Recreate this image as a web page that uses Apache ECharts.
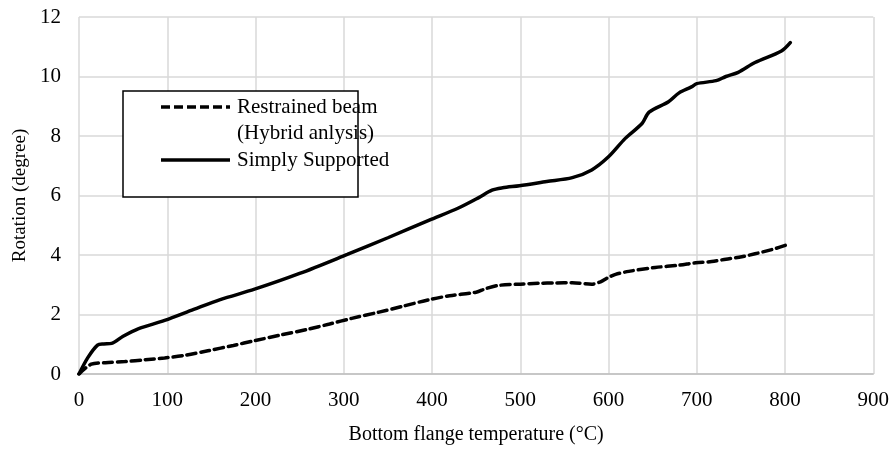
<!DOCTYPE html>
<html>
<head>
<meta charset="utf-8">
<script src="https://cdn.jsdelivr.net/npm/echarts@6/dist/echarts.min.js"></script>
<style>html,body{margin:0;padding:0;background:#fff}#c{width:892px;height:450px}</style>
</head>
<body>
<div id="c"></div>
<script>
const xTicks = [0,100,200,300,400,500,600,700,800,900];
const yTicks = [0,2,4,6,8,10,12];
const restrainedName = 'Restrained beam\n(Hybrid anlysis)';
const simplyName = 'Simply Supported';
const restrainedT = [0,14,30,52,75,97,120,146,175,199,230,259,284,309,340,366,397,420,450,461,476,500,521,540,559,581,591,600,608,623,653,680,699,717,733,751,766,785,804];
const restrainedR = [0,0.33,0.38,0.42,0.48,0.54,0.63,0.78,0.96,1.12,1.32,1.5,1.68,1.87,2.08,2.27,2.5,2.63,2.75,2.87,2.98,3.02,3.05,3.06,3.07,3.02,3.1,3.25,3.35,3.45,3.58,3.66,3.74,3.78,3.86,3.94,4.04,4.18,4.36];
const simplyT = [0,10,21,28,37,50,67,97,130,160,199,250,304,350,397,430,453,468,480,499,530,559,581,600,619,638,646,668,680,694,700,722,733,747,766,796,806];
const simplyR = [0,0.55,0.97,1.01,1.03,1.27,1.52,1.8,2.17,2.5,2.85,3.38,4.02,4.58,5.17,5.58,5.93,6.18,6.26,6.33,6.47,6.6,6.86,7.3,7.92,8.42,8.8,9.15,9.45,9.65,9.76,9.86,10.0,10.14,10.47,10.86,11.14];

const zip = (a,b) => a.map((v,i)=>[v,b[i]]);
const FONT = 'Liberation Serif';
const chart = echarts.init(document.getElementById('c'), null, {renderer:'canvas'});
chart.setOption({
  animation:false,
  textStyle:{fontFamily:FONT, color:'#000'},
  grid:{left:79, right:17, top:17, bottom:71, containLabel:false},
  xAxis:{
    type:'value', min:xTicks[0], max:xTicks[xTicks.length-1], interval:100,
    name:'Bottom flange temperature (°C)', nameLocation:'middle', nameGap:51,
    nameTextStyle:{fontFamily:FONT, fontSize:20, color:'#000'},
    axisLine:{show:true, lineStyle:{color:'#bfbfbf', width:1.5}},
    axisTick:{show:false},
    axisLabel:{fontFamily:FONT, fontSize:21, color:'#000', margin:16},
    splitLine:{show:true, lineStyle:{color:'#d9d9d9', width:1.5}}
  },
  yAxis:{
    type:'value', min:yTicks[0], max:yTicks[yTicks.length-1], interval:2,
    name:'Rotation (degree)', nameLocation:'middle', nameGap:48, nameRotate:90,
    nameTextStyle:{fontFamily:FONT, fontSize:19, color:'#000'},
    axisLine:{show:false},
    axisTick:{show:false},
    axisLabel:{fontFamily:FONT, fontSize:21, color:'#000', margin:18},
    splitLine:{show:true, lineStyle:{color:'#d9d9d9', width:1.5}}
  },
  series:[
    {name:restrainedName, type:'line', data:zip(restrainedT,restrainedR), showSymbol:false, smooth:0.3,
     lineStyle:{color:'#000', width:3.5, type:[9,5], cap:'round'}},
    {name:simplyName, type:'line', data:zip(simplyT,simplyR), showSymbol:false, smooth:0.3,
     lineStyle:{color:'#000', width:3.5, cap:'round'}}
  ],
  graphic:[
    {type:'rect', shape:{x:123, y:91, width:235, height:106}, style:{fill:'#fff', stroke:'#000', lineWidth:1.5}, z:100},
    {type:'line', shape:{x1:161, y1:107, x2:230, y2:107}, style:{stroke:'#000', lineWidth:3.5, lineDash:[9,4]}, z:101},
    {type:'line', shape:{x1:161, y1:160, x2:230, y2:160}, style:{stroke:'#000', lineWidth:3.5}, z:101},
    {type:'text', x:237, y:107, style:{text:'Restrained beam', font:'21px "Liberation Serif"', fill:'#000', textVerticalAlign:'middle', verticalAlign:'middle'}, z:101},
    {type:'text', x:237, y:133, style:{text:'(Hybrid anlysis)', font:'21px "Liberation Serif"', fill:'#000', textVerticalAlign:'middle', verticalAlign:'middle'}, z:101},
    {type:'text', x:237, y:160, style:{text:'Simply Supported', font:'21px "Liberation Serif"', fill:'#000', textVerticalAlign:'middle', verticalAlign:'middle'}, z:101}
  ]
});
</script>
</body>
</html>
